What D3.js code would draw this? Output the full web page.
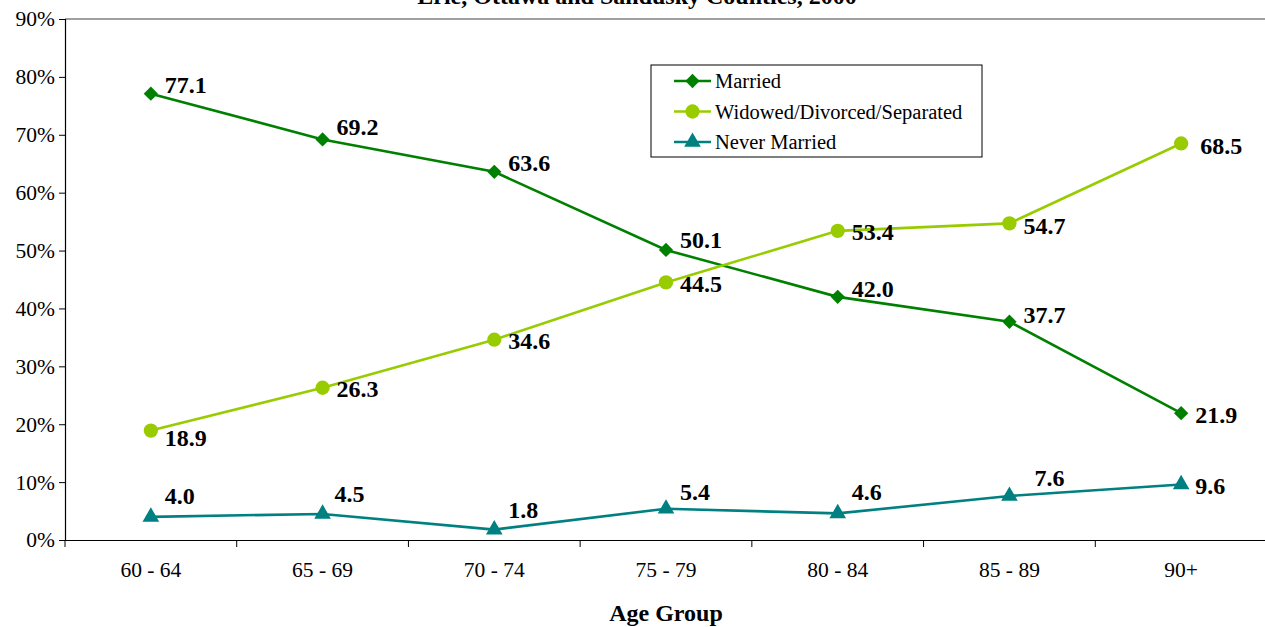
<!DOCTYPE html>
<html lang="en">
<head>
    <meta charset="UTF-8">
    <title>Marital Status by Age Group</title>
    <script src="https://cdnjs.cloudflare.com/ajax/libs/d3/7.8.5/d3.min.js"></script>
    <style>
        body { margin: 0; background: white; }
        svg, svg text { font-family: "Liberation Serif", "Times New Roman", serif; }
        svg { display: block; }
    </style>
</head>
<body>
<div id="chart"></div>
<script>
    const ageGroups = ['60 - 64', '65 - 69', '70 - 74', '75 - 79', '80 - 84', '85 - 89', '90+'];
    const married = [77.1, 69.2, 63.6, 50.1, 42.0, 37.7, 21.9];
    const widowed = [18.9, 26.3, 34.6, 44.5, 53.4, 54.7, 68.5];
    const neverMarried = [4.0, 4.5, 1.8, 5.4, 4.6, 7.6, 9.6];
    const yTicks = [0, 10, 20, 30, 40, 50, 60, 70, 80, 90];

    // label nudges (dx, dy of label centre from the marker), kept apart from the data
    const nudgeMarried = [[14, -9], [14, -13], [14, -9], [14, -10], [14, -8], [14, -7], [14, 1]];
    const nudgeWidowed = [[14, 7], [14, 1], [14, 1], [14, 1], [14, 1], [14, 2], [19, 2]];
    const nudgeNever = [[14, -21], [12, -20], [14, -20], [14, -17], [14, -22], [25, -18], [14, 1]];

    const series = [
        {name: 'Married', values: married, color: '#008000', shape: d3.symbolDiamond2, size: 130, nudge: nudgeMarried},
        {name: 'Widowed/Divorced/Separated', values: widowed, color: '#99CC00', shape: d3.symbolCircle, size: 160, nudge: nudgeWidowed},
        {name: 'Never Married', values: neverMarried, color: '#008080', shape: d3.symbolTriangle, size: 120, nudge: nudgeNever}
    ];

    const W = 1265, H = 627;
    const plotLeft = 65, plotRight = 1267, plotTop = 19, plotBottom = 540;

    const svg = d3.select('#chart').append('svg').attr('width', W).attr('height', H);

    const x = d3.scaleBand().domain(ageGroups).range([plotLeft, plotRight]);
    const y = d3.scaleLinear().domain([0, 90]).range([plotBottom, plotTop]);

    // title (clipped at the top in the source)
    svg.append('text')
        .attr('x', 637).attr('y', 4)
        .attr('text-anchor', 'middle')
        .attr('font-size', 24).attr('font-weight', 'bold')
        .text('Erie, Ottawa and Sandusky Counties, 2000');

    // plot area top border
    svg.append('line')
        .attr('x1', plotLeft).attr('x2', W).attr('y1', plotTop).attr('y2', plotTop)
        .attr('stroke', '#808080').attr('stroke-width', 1.5);

    // y axis
    const yAxis = d3.axisLeft(y).tickValues(yTicks).tickFormat(d => d + '%').tickSize(6).tickPadding(4);
    const gy = svg.append('g').attr('transform', `translate(${plotLeft},0)`).call(yAxis)
        .attr('font-family', null).attr('font-size', null);
    gy.select('.domain').attr('stroke', '#000').attr('stroke-width', 1.2);
    gy.selectAll('.tick line').attr('stroke', '#000');
    gy.selectAll('text').style('font-size', '21.5px').attr('fill', '#000');

    // x axis
    const xAxis = d3.axisBottom(x).tickSize(0).tickPadding(22);
    const gx = svg.append('g').attr('transform', `translate(0,${plotBottom})`).call(xAxis)
        .attr('font-family', null).attr('font-size', null);
    gx.select('.domain').attr('stroke', '#000').attr('stroke-width', 1.2);
    gx.selectAll('text').style('font-size', '21.5px').attr('fill', '#000');
    // category boundary ticks
    gx.selectAll('.bound')
        .data(ageGroups)
        .enter()
        .append('line')
        .attr('x1', d => x(d)).attr('x2', d => x(d))
        .attr('y1', 0).attr('y2', 7)
        .attr('stroke', '#000');

    svg.append('text')
        .attr('x', 666).attr('y', 621)
        .attr('text-anchor', 'middle')
        .attr('font-size', 24).attr('font-weight', 'bold')
        .text('Age Group');

    const cx = d => x(d) + x.bandwidth() / 2;

    const line = d3.line()
        .x((d, i) => cx(ageGroups[i]))
        .y(d => y(d));

    series.forEach(s => {
        svg.append('path')
            .attr('d', line(s.values))
            .attr('fill', 'none')
            .attr('stroke', s.color)
            .attr('stroke-width', 2.6);

        svg.selectAll(null)
            .data(s.values)
            .enter()
            .append('path')
            .attr('d', d3.symbol().type(s.shape).size(s.size))
            .attr('transform', (d, i) => `translate(${cx(ageGroups[i])},${y(d)})`)
            .attr('fill', s.color);

        svg.selectAll(null)
            .data(s.values)
            .enter()
            .append('text')
            .attr('x', (d, i) => cx(ageGroups[i]) + s.nudge[i][0])
            .attr('y', (d, i) => y(d) + s.nudge[i][1])
            .attr('dy', '0.35em')
            .attr('font-size', 24).attr('font-weight', 'bold')
            .text(d => d.toFixed(1));
    });

    // legend
    const legend = svg.append('g').attr('transform', 'translate(651,65)');
    legend.append('rect')
        .attr('width', 331).attr('height', 92)
        .attr('fill', 'white').attr('stroke', '#000').attr('stroke-width', 1);
    series.forEach((s, i) => {
        const ly = 16 + i * 30.5;
        legend.append('line')
            .attr('x1', 23).attr('x2', 60).attr('y1', ly).attr('y2', ly)
            .attr('stroke', s.color).attr('stroke-width', 2.6);
        legend.append('path')
            .attr('d', d3.symbol().type(s.shape).size(s.size))
            .attr('transform', `translate(41.5,${ly})`)
            .attr('fill', s.color);
        legend.append('text')
            .attr('x', 64).attr('y', ly).attr('dy', '0.35em')
            .attr('font-size', 20.5)
            .text(s.name);
    });
</script>
</body>
</html>
